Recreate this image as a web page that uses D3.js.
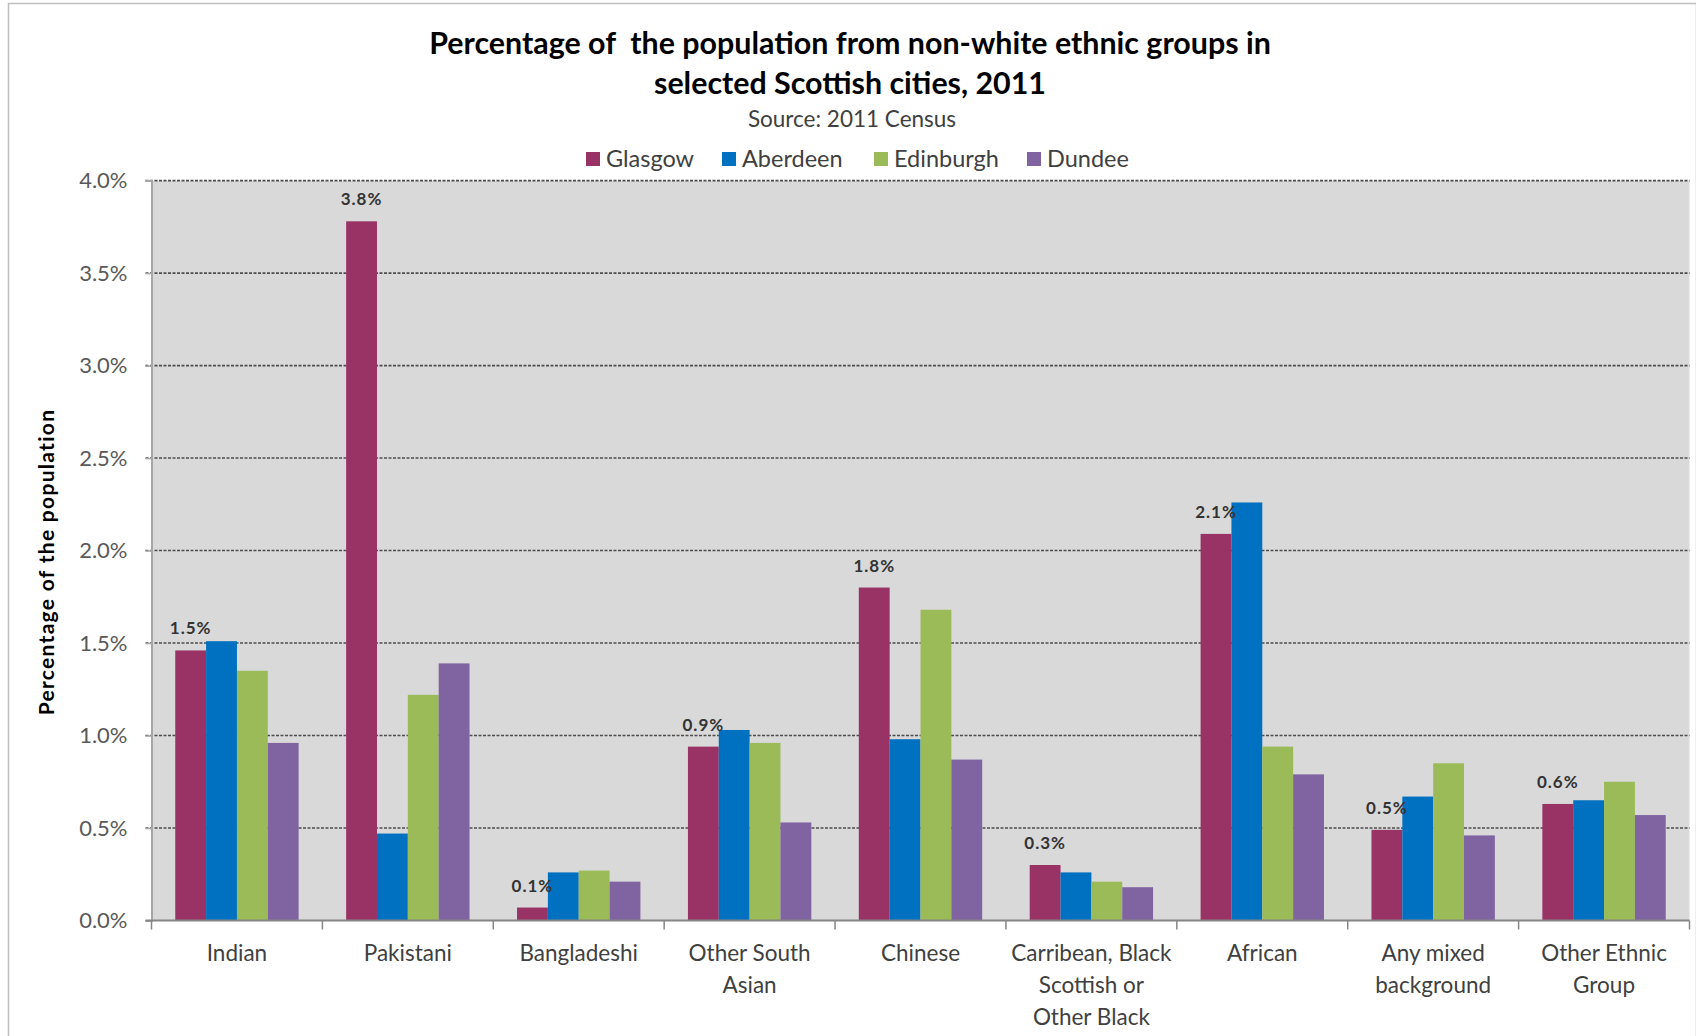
<!DOCTYPE html>
<html>
<head>
<meta charset="utf-8">
<script src="https://cdn.jsdelivr.net/npm/d3@7"></script>
<style>
  html, body { margin: 0; padding: 0; background: #fff; }
  svg { display: block; }
  text { font-family: Lato, "Open Sans", sans-serif; }
</style>
</head>
<body>
<svg id="chart" width="1696" height="1036"></svg>
<script>
const categories = ["Indian", "Pakistani", "Bangladeshi", "Other South Asian", "Chinese",
  "Carribean, Black Scottish or Other Black", "African", "Any mixed background", "Other Ethnic Group"];
const categoryLines = [["Indian"], ["Pakistani"], ["Bangladeshi"], ["Other South", "Asian"], ["Chinese"],
  ["Carribean, Black", "Scottish or", "Other Black"], ["African"], ["Any mixed", "background"], ["Other Ethnic", "Group"]];
const seriesNames = ["Glasgow", "Aberdeen", "Edinburgh", "Dundee"];
const glasgow   = [1.46, 3.78, 0.07, 0.94, 1.80, 0.30, 2.09, 0.49, 0.63];
const aberdeen  = [1.51, 0.47, 0.26, 1.03, 0.98, 0.26, 2.26, 0.67, 0.65];
const edinburgh = [1.35, 1.22, 0.27, 0.96, 1.68, 0.21, 0.94, 0.85, 0.75];
const dundee    = [0.96, 1.39, 0.21, 0.53, 0.87, 0.18, 0.79, 0.46, 0.57];
const yTicks = [0, 0.5, 1.0, 1.5, 2.0, 2.5, 3.0, 3.5, 4.0];
const colors = ["#993366", "#0070C0", "#9BBB59", "#8064A2"];

const seriesValues = [glasgow, aberdeen, edinburgh, dundee];

const svg = d3.select("#chart");
const W = 1696, H = 1036;
const plot = {left: 151.5, right: 1689.5, top: 180.6, bottom: 920.5};

// outer chart border
svg.append("rect").attr("x", 8.5).attr("y", 3.5).attr("width", W - 8).attr("height", H + 10)
  .attr("fill", "#fff").attr("stroke", "#bfbfbf").attr("stroke-width", 1.5);

const x0 = d3.scaleBand().domain(categories).range([plot.left, plot.right])
  .paddingInner(0.278).paddingOuter(0.139);
const x1 = d3.scaleBand().domain(seriesNames).range([0, x0.bandwidth()]);
const y = d3.scaleLinear().domain([0, 4]).range([plot.bottom, plot.top]);

// plot background
svg.append("rect").attr("x", plot.left).attr("y", plot.top)
  .attr("width", plot.right - plot.left).attr("height", plot.bottom - plot.top)
  .attr("fill", "#d9d9d9");

// gridlines
svg.append("g").selectAll("line").data(yTicks.filter(d => d > 0)).join("line")
  .attr("x1", plot.left - 6).attr("x2", plot.right)
  .attr("y1", d => y(d)).attr("y2", d => y(d))
  .attr("stroke", "#4d4d4d").attr("stroke-width", 1.6).attr("stroke-dasharray", "3,1.5");

// left axis
const yAxis = d3.axisLeft(y).tickValues(yTicks).tickSize(6).tickPadding(18)
  .tickFormat(d => d.toFixed(1) + "%");
const gy = svg.append("g").attr("transform", `translate(${plot.left},0)`).call(yAxis);
gy.select(".domain").attr("stroke", "#a6a6a6").attr("stroke-width", 2);
gy.selectAll(".tick line").attr("stroke", "#a6a6a6").attr("stroke-width", 1.5);
gy.selectAll(".tick text").attr("fill", "#595959").style("font-size", "22px")
  .style("font-family", "Lato, sans-serif");

// bars
const groups = svg.append("g").selectAll("g").data(categories).join("g")
  .attr("transform", d => `translate(${x0(d)},0)`);
groups.selectAll("rect").data((c, i) => seriesNames.map((s, j) => ({s, v: seriesValues[j][i], j})))
  .join("rect")
  .attr("x", d => x1(d.s)).attr("width", x1.bandwidth())
  .attr("y", d => y(d.v)).attr("height", d => y(0) - y(d.v))
  .attr("fill", d => colors[d.j]);

// bottom axis
const step = x0.step();
const boundaries = d3.range(categories.length + 1).map(i => plot.left + i * step);
svg.append("line").attr("x1", plot.left - 6).attr("x2", plot.right)
  .attr("y1", plot.bottom).attr("y2", plot.bottom)
  .attr("stroke", "#868686").attr("stroke-width", 2);
svg.append("g").selectAll("line").data(boundaries).join("line")
  .attr("x1", d => d).attr("x2", d => d)
  .attr("y1", plot.bottom).attr("y2", plot.bottom + 9)
  .attr("stroke", "#868686").attr("stroke-width", 1.5);

// category labels
const xl = svg.append("g").selectAll("text").data(categories).join("text")
  .attr("x", d => x0(d) + x0.bandwidth() / 2)
  .attr("y", 961)
  .attr("text-anchor", "middle")
  .attr("fill", "#404040").style("font-size", "22.5px");
xl.each(function(d, i) {
  const t = d3.select(this);
  categoryLines[i].forEach((ln, k) => {
    t.append("tspan").attr("x", x0(d) + x0.bandwidth() / 2).attr("dy", k === 0 ? 0 : 31.8).text(ln);
  });
});

// data labels on Glasgow bars
svg.append("g").selectAll("text").data(categories).join("text")
  .attr("x", (d) => x0(d) + x1("Glasgow") + x1.bandwidth() / 2)
  .attr("y", (d, i) => y(glasgow[i]) - 16)
  .attr("text-anchor", "middle")
  .attr("fill", "#333").style("font-size", "17px").style("font-weight", "bold")
  .style("letter-spacing", "1px")
  .text((d, i) => glasgow[i].toFixed(1) + "%");

// title
svg.append("text").attr("x", 850).attr("y", 54).attr("text-anchor", "middle")
  .style("font-size", "30.4px").style("font-weight", "bold").attr("fill", "#000")
  .attr("xml:space", "preserve")
  .text("Percentage of  the population from non-white ethnic groups in");
svg.append("text").attr("x", 850).attr("y", 94).attr("text-anchor", "middle")
  .style("font-size", "30.4px").style("font-weight", "bold").attr("fill", "#000")
  .text("selected Scottish cities, 2011");
svg.append("text").attr("x", 852).attr("y", 127).attr("text-anchor", "middle")
  .style("font-size", "22.5px").attr("fill", "#404040")
  .text("Source: 2011 Census");

// legend
const legendX = [586, 722, 874, 1027];
const lg = svg.append("g").selectAll("g").data(seriesNames).join("g")
  .attr("transform", (d, i) => `translate(${legendX[i]},159)`);
lg.append("rect").attr("x", 0).attr("y", -7).attr("width", 14).attr("height", 14)
  .attr("fill", (d, i) => colors[i]);
lg.append("text").attr("x", 20).attr("y", 8).style("font-size", "23.5px").attr("fill", "#404040")
  .text(d => d);

// y axis title
svg.append("text").attr("transform", "translate(54,562) rotate(-90)")
  .attr("text-anchor", "middle").style("font-size", "21px").style("font-weight", "bold")
  .style("letter-spacing", "1.3px")
  .attr("fill", "#000").text("Percentage of the population");
</script>
</body>
</html>
